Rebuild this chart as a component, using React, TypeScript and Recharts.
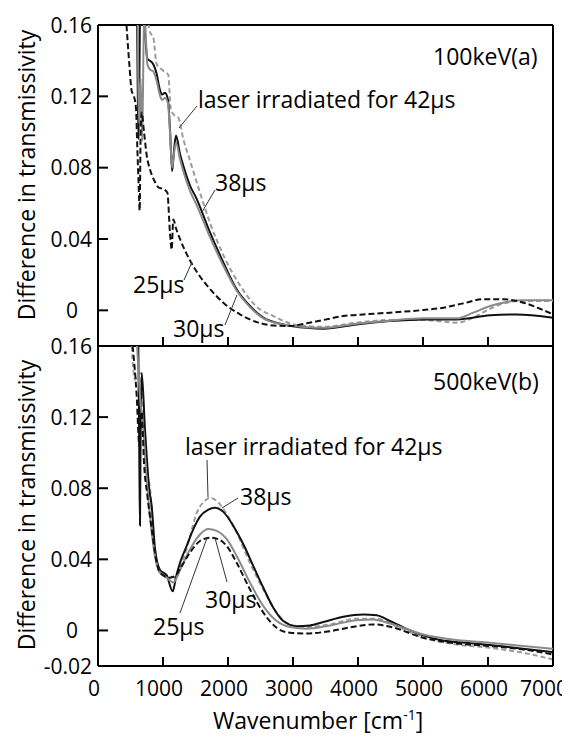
import * as React from "react";
import { LineChart, Line, XAxis, YAxis, ReferenceLine } from "recharts";

// wavenumber ticks
const xTicks = [0, 1000, 2000, 3000, 4000, 5000, 6000, 7000];
const topYTicks = [0, 0.04, 0.08, 0.12, 0.16];
const botYTicks = [-0.02, 0, 0.04, 0.08, 0.12, 0.16];

// (a) 100keV
const a25x = [420, 482, 518, 554, 585, 605, 626, 641, 656, 672, 708, 749, 800, 877, 928, 1005, 1067, 1108, 1133, 1159, 1200, 1262, 1415, 1569, 1723, 1928, 2185, 2441, 2697, 2954, 3210, 3467, 3774, 4082, 4492, 5005, 5313, 5620, 5928, 6236, 6543, 6800, 7000];
const a25y = [0.17, 0.138, 0.123, 0.12, 0.113, 0.091, 0.07, 0.056, 0.1, 0.111, 0.1, 0.087, 0.079, 0.072, 0.069, 0.068, 0.066, 0.043, 0.034, 0.051, 0.046, 0.04, 0.028, 0.019, 0.012, 0.0043, -0.0023, -0.0066, -0.0085, -0.0088, -0.0073, -0.0054, -0.0032, -0.0023, -0.0013, 0.0002, 0.0015, 0.0039, 0.0062, 0.0062, 0.0043, 0.0009, -0.0023];

const a38x = [600, 625, 650, 700, 760, 800, 850, 900, 950, 985, 1030, 1077, 1110, 1140, 1170, 1200, 1260, 1313, 1415, 1518, 1569, 1723, 1928, 2133, 2338, 2544, 2851, 3210, 3467, 3979, 4492, 5005, 5518, 6031, 6440, 7000];
const a38y = [0.17, 0.096, 0.17, 0.165, 0.141, 0.14, 0.138, 0.133, 0.124, 0.121, 0.122, 0.118, 0.1, 0.078, 0.09, 0.098, 0.088, 0.081, 0.07, 0.0625, 0.058, 0.0437, 0.0269, 0.0118, 0.0024, -0.0041, -0.0079, -0.0098, -0.0103, -0.0079, -0.006, -0.0051, -0.0051, -0.0028, -0.0023, -0.0041];

const a30x = [610, 632, 655, 680, 710, 760, 800, 850, 900, 950, 985, 1030, 1077, 1110, 1140, 1170, 1200, 1260, 1313, 1415, 1518, 1723, 1928, 2133, 2338, 2544, 2851, 3210, 3467, 3979, 4492, 5005, 5518, 5774, 6031, 6287, 6543, 7000];
const a30y = [0.17, 0.105, 0.13, 0.095, 0.17, 0.138, 0.135, 0.134, 0.129, 0.121, 0.118, 0.119, 0.116, 0.098, 0.08, 0.088, 0.094, 0.085, 0.078, 0.067, 0.059, 0.041, 0.025, 0.011, 0.0018, -0.0045, -0.008, -0.0095, -0.0098, -0.0075, -0.0058, -0.0045, -0.0045, -0.0013, 0.0024, 0.0047, 0.0056, 0.0056];

const a42x = [745, 800, 851, 903, 980, 1082, 1118, 1159, 1236, 1313, 1415, 1569, 1723, 1928, 2185, 2441, 2697, 2954, 3210, 3467, 3979, 4492, 5005, 5518, 5774, 6031, 6287, 6543, 7000];
const a42y = [0.17, 0.156, 0.153, 0.138, 0.135, 0.132, 0.113, 0.11, 0.108, 0.096, 0.084, 0.066, 0.049, 0.031, 0.014, 0.002, -0.0032, -0.0073, -0.0088, -0.0092, -0.0069, -0.0054, -0.0054, -0.0069, -0.0041, 0.0009, 0.0043, 0.0053, 0.0053];

// (b) 500keV
const b25x = [533, 595, 636, 672, 708, 759, 826, 903, 980, 1108, 1185, 1287, 1415, 1569, 1723, 1851, 1980, 2133, 2338, 2544, 2749, 2954, 3210, 3569, 3979, 4236, 4492, 5005, 5518, 6031, 6543, 7000];
const b25y = [0.16, 0.132, 0.104, 0.123, 0.094, 0.076, 0.057, 0.038, 0.0316, 0.0297, 0.0306, 0.0362, 0.0438, 0.0503, 0.0522, 0.0513, 0.0475, 0.0381, 0.0231, 0.01, 0.0015, -0.0013, -0.0017, -0.0004, 0.0024, 0.0034, 0.0021, -0.0041, -0.0073, -0.0088, -0.0107, -0.0135];

const b38x = [600, 620, 636, 646, 656, 672, 723, 790, 826, 877, 954, 1056, 1150, 1200, 1262, 1364, 1467, 1569, 1697, 1800, 1928, 2082, 2236, 2390, 2544, 2697, 2851, 3056, 3261, 3467, 3774, 4082, 4287, 4492, 4749, 5005, 5262, 5774, 6287, 6646, 7000];
const b38y = [0.17, 0.16, 0.094, 0.059, 0.113, 0.145, 0.113, 0.079, 0.07, 0.046, 0.034, 0.031, 0.022, 0.03, 0.038, 0.0475, 0.057, 0.064, 0.068, 0.069, 0.0667, 0.0588, 0.0485, 0.0362, 0.024, 0.0128, 0.0053, 0.0024, 0.0028, 0.0047, 0.0077, 0.009, 0.0085, 0.0053, 0.0009, -0.0028, -0.0054, -0.0073, -0.0092, -0.0107, -0.0122];

const b30x = [595, 646, 697, 749, 800, 877, 954, 1056, 1159, 1262, 1415, 1569, 1697, 1826, 1980, 2133, 2338, 2544, 2749, 2954, 3210, 3569, 3979, 4236, 4492, 5005, 5518, 6031, 6543, 7000];
const b30y = [0.165, 0.132, 0.113, 0.085, 0.064, 0.042, 0.0325, 0.0297, 0.027, 0.034, 0.0456, 0.054, 0.057, 0.056, 0.0513, 0.0419, 0.0269, 0.0137, 0.0053, 0.0019, 0.0009, 0.0028, 0.0058, 0.0062, 0.0039, -0.0023, -0.0054, -0.0069, -0.0088, -0.0103];

const b42x = [518, 569, 646, 697, 749, 810, 851, 954, 1108, 1185, 1313, 1415, 1518, 1646, 1723, 1851, 1980, 2133, 2338, 2544, 2749, 2954, 3210, 3569, 3979, 4287, 4595, 5005, 5518, 6031, 6543, 7000];
const b42y = [0.16, 0.141, 0.145, 0.123, 0.091, 0.076, 0.049, 0.0325, 0.0306, 0.0297, 0.04, 0.053, 0.066, 0.0729, 0.0747, 0.072, 0.0654, 0.055, 0.038, 0.023, 0.01, 0.0034, 0.0019, 0.0034, 0.0066, 0.0066, 0.0024, -0.0041, -0.0079, -0.0098, -0.0126, -0.0163];

const FONT = "'Open Sans', sans-serif";

const zip = (xs: number[], ys: number[]) => xs.map((x, i) => ({ x, y: ys[i] }));

// series styles: 42µs grey dashed, 38µs black, 30µs grey, 25µs black dashed
const styles = [
  { key: "42", stroke: "#9c9c9c", dash: "5 3" },
  { key: "38", stroke: "#111111", dash: undefined },
  { key: "30", stroke: "#8a8a8a", dash: undefined },
  { key: "25", stroke: "#111111", dash: "6 3" },
];

const YTick = (props: any) => {
  const { x, y, payload } = props;
  const v = payload.value;
  const label = v === 0 ? "0" : v.toFixed(2);
  return (
    <text x={v === 0 ? x - 14 : x} y={y} dy="0.36em" textAnchor="end" fontSize={21} fontFamily={FONT} fill="#000">
      {label}
    </text>
  );
};

const XTick = (props: any) => {
  const { x, y, payload } = props;
  const last = payload.value === 7000;
  return (
    <text x={last ? x + 15 : x - 4} y={y} dy="0.71em" textAnchor={last ? "end" : "middle"} fontSize={21} fontFamily={FONT} fill="#000">
      {payload.value}
    </text>
  );
};

const Panel = ({ series, yTicks, bottom }: { series: number[][][]; yTicks: number[]; bottom: boolean }) => (
  <LineChart
    width={570}
    height={bottom ? 411 : 360}
    margin={{ top: bottom ? 16 : 25, right: 17, bottom: 0, left: 0 }}
  >
    <XAxis
      type="number"
      dataKey="x"
      domain={[0, 7000]}
      ticks={xTicks}
      interval={0}
      height={bottom ? 75 : 14}
      axisLine={{ stroke: "#000", strokeWidth: 2 }}
      tickLine={{ stroke: "#000", strokeWidth: 2 }}
      tickSize={-9}
      tickMargin={24}
      tick={bottom ? XTick : () => <g />}
    />
    <YAxis
      type="number"
      domain={[-0.02, 0.16]}
      ticks={yTicks}
      allowDataOverflow
      width={98}
      axisLine={{ stroke: "#000", strokeWidth: 2 }}
      tickLine={{ stroke: "#000", strokeWidth: 2 }}
      tickSize={-10}
      tickMargin={16}
      tick={YTick}
    />
    <ReferenceLine y={0.16} stroke="#000" strokeWidth={2} />
    <ReferenceLine x={7000} stroke="#000" strokeWidth={2} />
    {series.map((s, i) => (
      <Line
        key={styles[i].key}
        data={zip(s[0], s[1])}
        dataKey="y"
        type="monotone"
        stroke={styles[i].stroke}
        strokeDasharray={styles[i].dash}
        strokeWidth={2}
        dot={false}
        isAnimationActive={false}
      />
    ))}
  </LineChart>
);

const txt = { fontFamily: FONT, fontSize: 23, fill: "#000" };
const lead = { stroke: "#333", strokeWidth: 1 };

export default function App() {
  return (
    <div style={{ position: "relative", width: 570, height: 741, margin: -8, background: "#fff" }}>
      <div style={{ position: "absolute", left: 0, top: 0 }}>
        <Panel series={[[a42x, a42y], [a38x, a38y], [a30x, a30y], [a25x, a25y]]} yTicks={topYTicks} bottom={false} />
      </div>
      <div style={{ position: "absolute", left: 0, top: 330 }}>
        <Panel series={[[b42x, b42y], [b38x, b38y], [b30x, b30y], [b25x, b25y]]} yTicks={botYTicks} bottom />
      </div>
      <svg width={570} height={741} style={{ position: "absolute", left: 0, top: 0, pointerEvents: "none" }}>
        {/* top panel */}
        <text x={433} y={65} {...txt}>100keV(a)</text>
        <text x={198} y={108} {...txt}>laser irradiated for 42μs</text>
        <line x1={197} y1={106} x2={179} y2={128} {...lead} />
        <text x={215} y={191} {...txt}>38μs</text>
        <line x1={215} y1={190} x2={202} y2={212} {...lead} />
        <text x={133} y={293} {...txt}>25μs</text>
        <line x1={184} y1={280} x2={192} y2={262} {...lead} />
        <text x={173} y={337} {...txt}>30μs</text>
        <line x1={225} y1={325} x2={237} y2={295} {...lead} />
        {/* bottom panel */}
        <text x={433} y={390} {...txt}>500keV(b)</text>
        <text x={185} y={455} {...txt}>laser irradiated for 42μs</text>
        <line x1={207} y1={460} x2={208} y2={497} {...lead} />
        <text x={240} y={505} {...txt}>38μs</text>
        <line x1={238} y1={498} x2={222} y2={508} {...lead} />
        <text x={205} y={608} {...txt}>30μs</text>
        <line x1={227} y1={582} x2={215} y2={538} {...lead} />
        <text x={153} y={635} {...txt}>25μs</text>
        <line x1={180} y1={613} x2={207} y2={538} {...lead} />
        {/* axis titles */}
        <text x={35} y={175} transform="rotate(-90 35 175)" textAnchor="middle" {...txt}>Difference in transmissivity</text>
        <text x={35} y={505} transform="rotate(-90 35 505)" textAnchor="middle" {...txt}>Difference in transmissivity</text>
        <text x={213} y={729} {...txt}>
          Wavenumber <tspan>[cm</tspan>
          <tspan fontSize={14} dy={-9}>-1</tspan>
          <tspan dy={9}>]</tspan>
        </text>
      </svg>
    </div>
  );
}
